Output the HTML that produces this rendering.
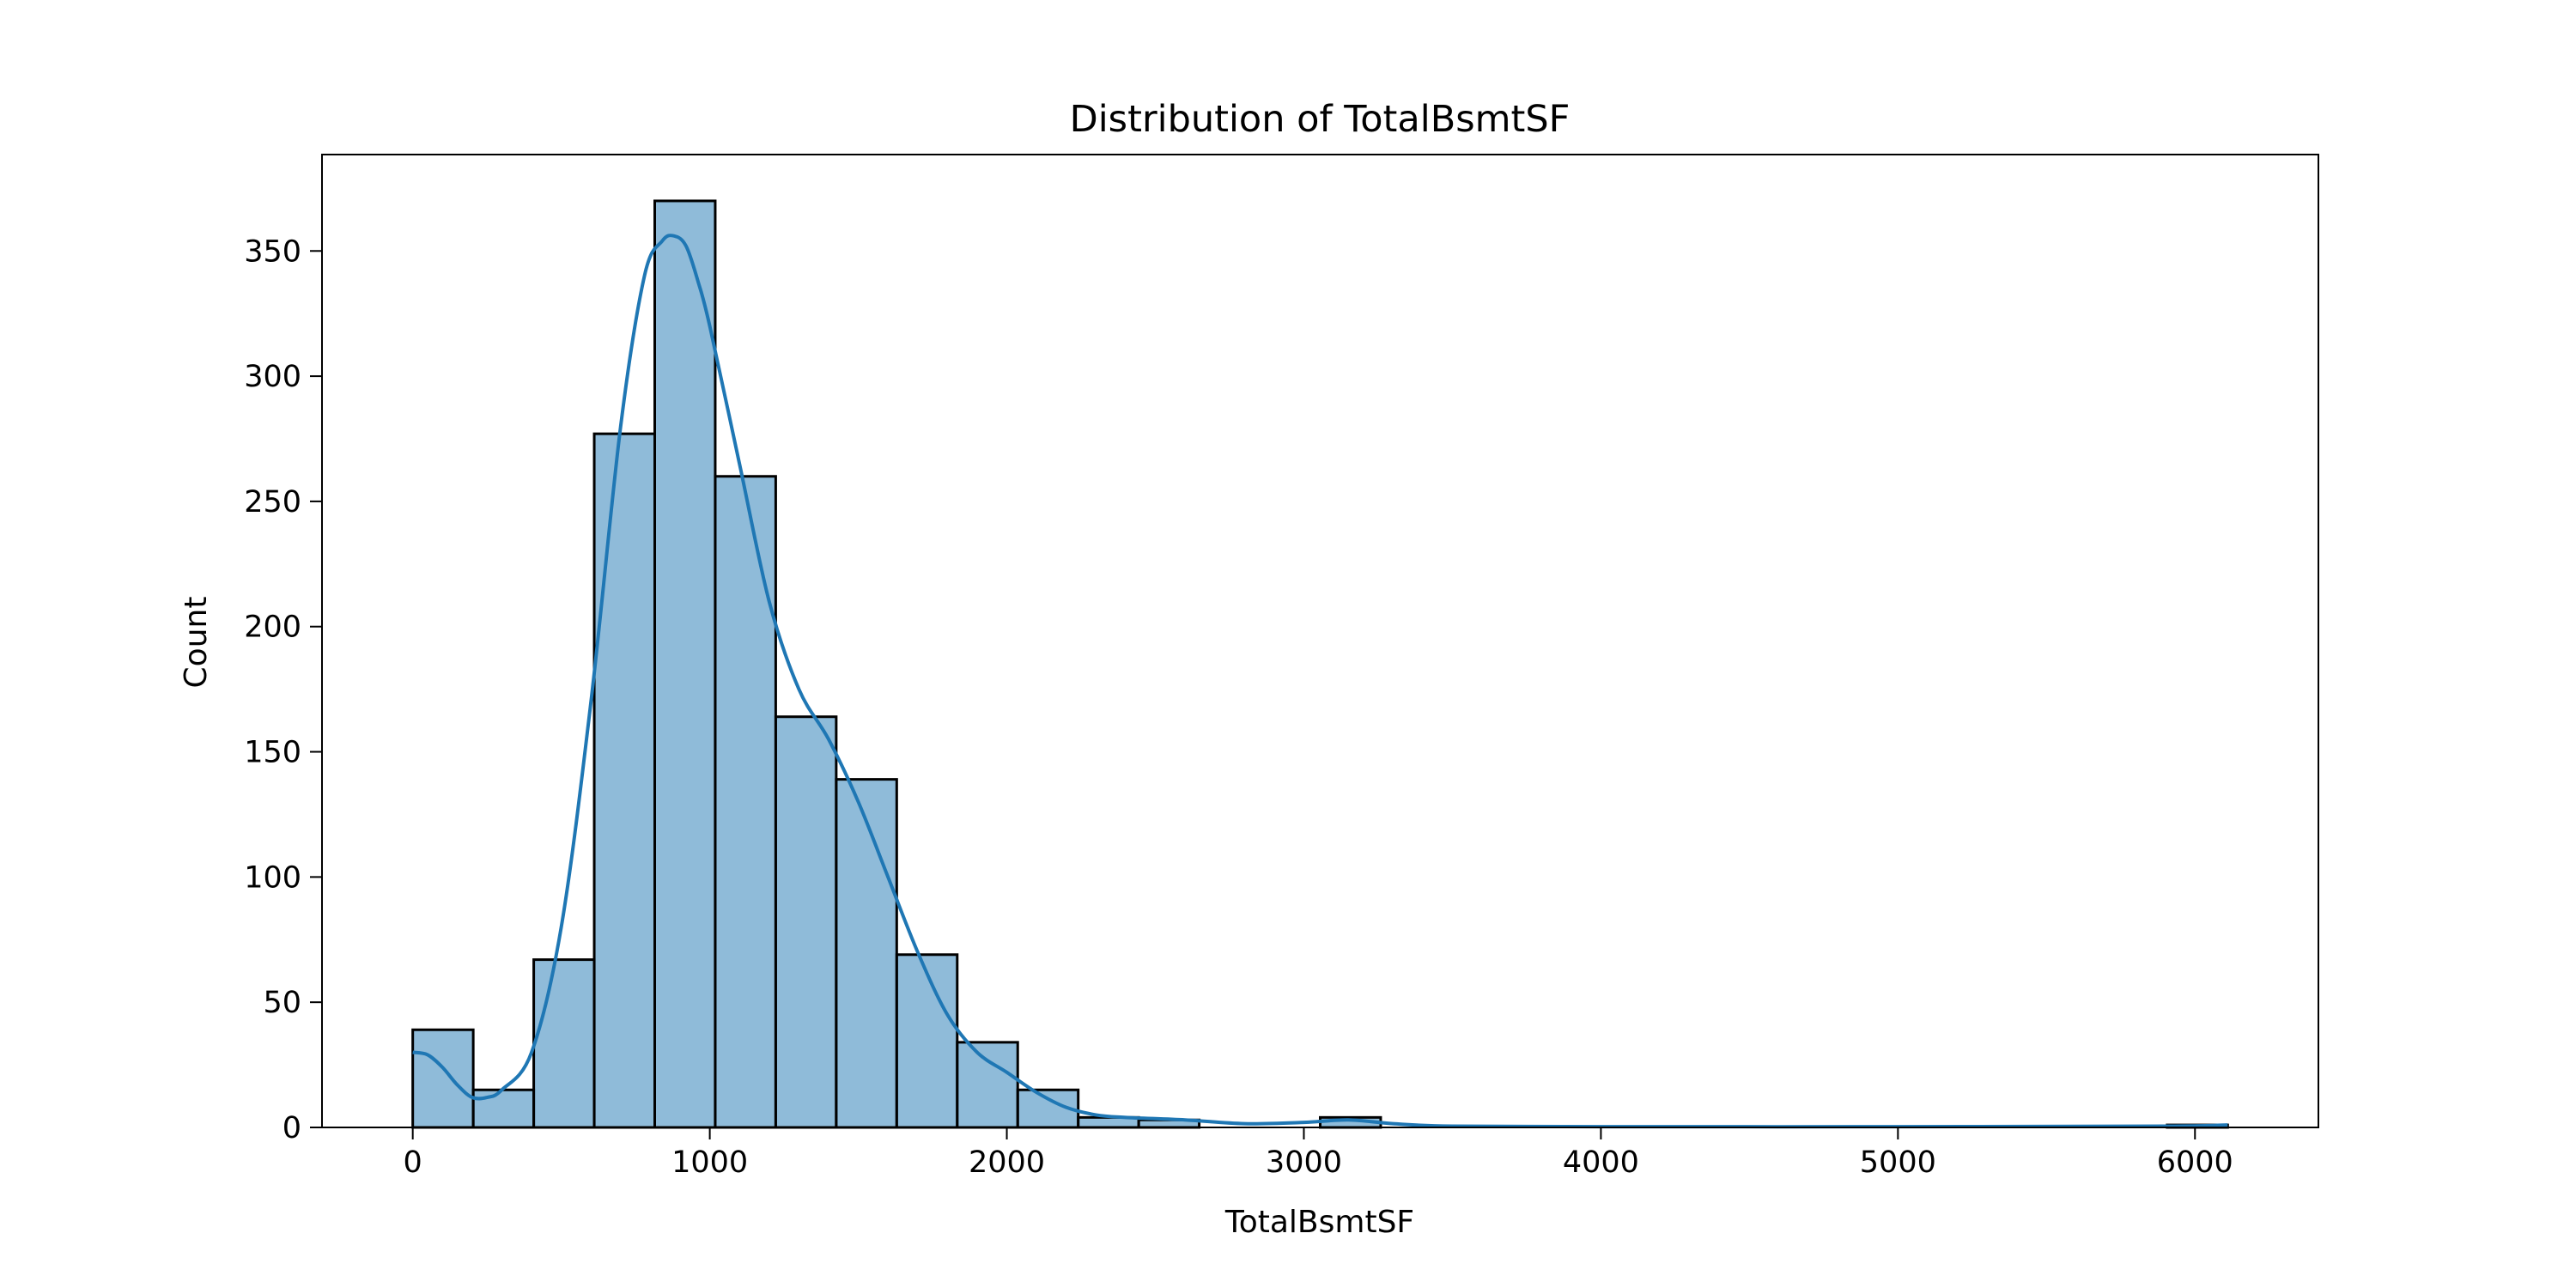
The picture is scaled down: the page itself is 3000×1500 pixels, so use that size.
<!DOCTYPE html>
<html><head><meta charset="utf-8"><style>
html,body{margin:0;padding:0;background:#fff;}
svg{display:block;font-family:"DejaVu Sans","Liberation Sans",sans-serif;}
</style></head><body>
<svg id="chart" width="3000" height="1500" viewBox="0 0 3000 1500">
<rect width="3000" height="1500" fill="#fff"/>
<g id="bars"></g>
<g id="kde"></g>
<rect x="375" y="180" width="2325" height="1133" fill="none" stroke="#000" stroke-width="2"/>
<g id="xticks"></g>
<g id="yticks"></g>
<text x="1537" y="153" text-anchor="middle" font-size="43">Distribution of TotalBsmtSF</text>
<text x="1537" y="1435" text-anchor="middle" font-size="36">TotalBsmtSF</text>
<text transform="translate(240,748) rotate(-90)" text-anchor="middle" font-size="36">Count</text>
</svg>
<script>
const binMin = 0, binMax = 6110;
const counts = [39,15,67,277,370,260,164,139,69,34,15,4,3,0,0,4,0,0,0,0,0,0,0,0,0,0,0,0,0,1];
const kdeX = [0,50,100,150,200,250,300,400,500,600,700,780,840,880,920,960,1000,1100,1200,1300,1400,1500,1600,1700,1800,1900,2000,2100,2200,2300,2400,2600,2800,3000,3150,3300,3500,4000,5000,5900,6110];
const kdeY = [30,29,24,17,12,12,15,30,80,170,280,340,354,356,352,338,320,265,210,175,155,130,100,70,45,30,22,14,8,5,4,3,1.5,2,3,1.5,0.5,0.3,0.3,0.5,1];
const xTicks = [0,1000,2000,3000,4000,5000,6000];
const yTicks = [0,50,100,150,200,250,300,350];
const NS="http://www.w3.org/2000/svg";
const L=375,R=2700,T=180,B=1313;
const xMin=-305.5,xMax=6415.5,yMax=388.5;
const sx=v=>L+(v-xMin)/(xMax-xMin)*(R-L);
const sy=v=>B-v/yMax*(B-T);
const bw=(binMax-binMin)/counts.length;
const bars=document.getElementById('bars');
counts.forEach((c,i)=>{
  if(c<=0) return;
  const r=document.createElementNS(NS,'rect');
  const x0=sx(binMin+i*bw),x1=sx(binMin+(i+1)*bw);
  r.setAttribute('x',x0);r.setAttribute('y',sy(c));
  r.setAttribute('width',x1-x0);r.setAttribute('height',sy(0)-sy(c));
  r.setAttribute('fill','rgba(31,119,180,0.5)');r.setAttribute('stroke','#000');r.setAttribute('stroke-width','3');
  
  
  bars.appendChild(r);
});
const pts=kdeX.map((x,i)=>[sx(x),sy(kdeY[i])]);
let d='M'+pts[0][0]+','+pts[0][1];
for(let i=0;i<pts.length-1;i++){
  const p0=pts[Math.max(0,i-1)],p1=pts[i],p2=pts[i+1],p3=pts[Math.min(pts.length-1,i+2)];
  const c1=[p1[0]+(p2[0]-p0[0])/6,p1[1]+(p2[1]-p0[1])/6];
  const c2=[p2[0]-(p3[0]-p1[0])/6,p2[1]-(p3[1]-p1[1])/6];
  d+='C'+c1[0]+','+c1[1]+' '+c2[0]+','+c2[1]+' '+p2[0]+','+p2[1];
}
const p=document.createElementNS(NS,'path');
p.setAttribute('d',d);
p.setAttribute('fill','none');p.setAttribute('stroke','#1f77b4');p.setAttribute('stroke-width','4');p.setAttribute('stroke-linejoin','round');


document.getElementById('kde').appendChild(p);
const xg=document.getElementById('xticks');
xTicks.forEach(v=>{
  const x=sx(v);
  const l=document.createElementNS(NS,'line');
  l.setAttribute('x1',x);l.setAttribute('x2',x);l.setAttribute('y1',B);l.setAttribute('y2',B+14);l.setAttribute('stroke','#000');l.setAttribute('stroke-width','2');
  
  
  xg.appendChild(l);
  const t=document.createElementNS(NS,'text');
  t.setAttribute('x',x);t.setAttribute('y',B+52);t.setAttribute('text-anchor','middle');t.setAttribute('font-size','35');
  t.textContent=v;
  
  
  xg.appendChild(t);
});
const yg=document.getElementById('yticks');
yTicks.forEach(v=>{
  const y=sy(v);
  const l=document.createElementNS(NS,'line');
  l.setAttribute('x1',L-14);l.setAttribute('x2',L);l.setAttribute('y1',y);l.setAttribute('y2',y);l.setAttribute('stroke','#000');l.setAttribute('stroke-width','2');
  
  
  yg.appendChild(l);
  const t=document.createElementNS(NS,'text');
  t.setAttribute('x',L-24);t.setAttribute('y',y+12);t.setAttribute('text-anchor','end');t.setAttribute('font-size','35');
  t.textContent=v;
  
  
  yg.appendChild(t);
});
</script>
</body></html>
